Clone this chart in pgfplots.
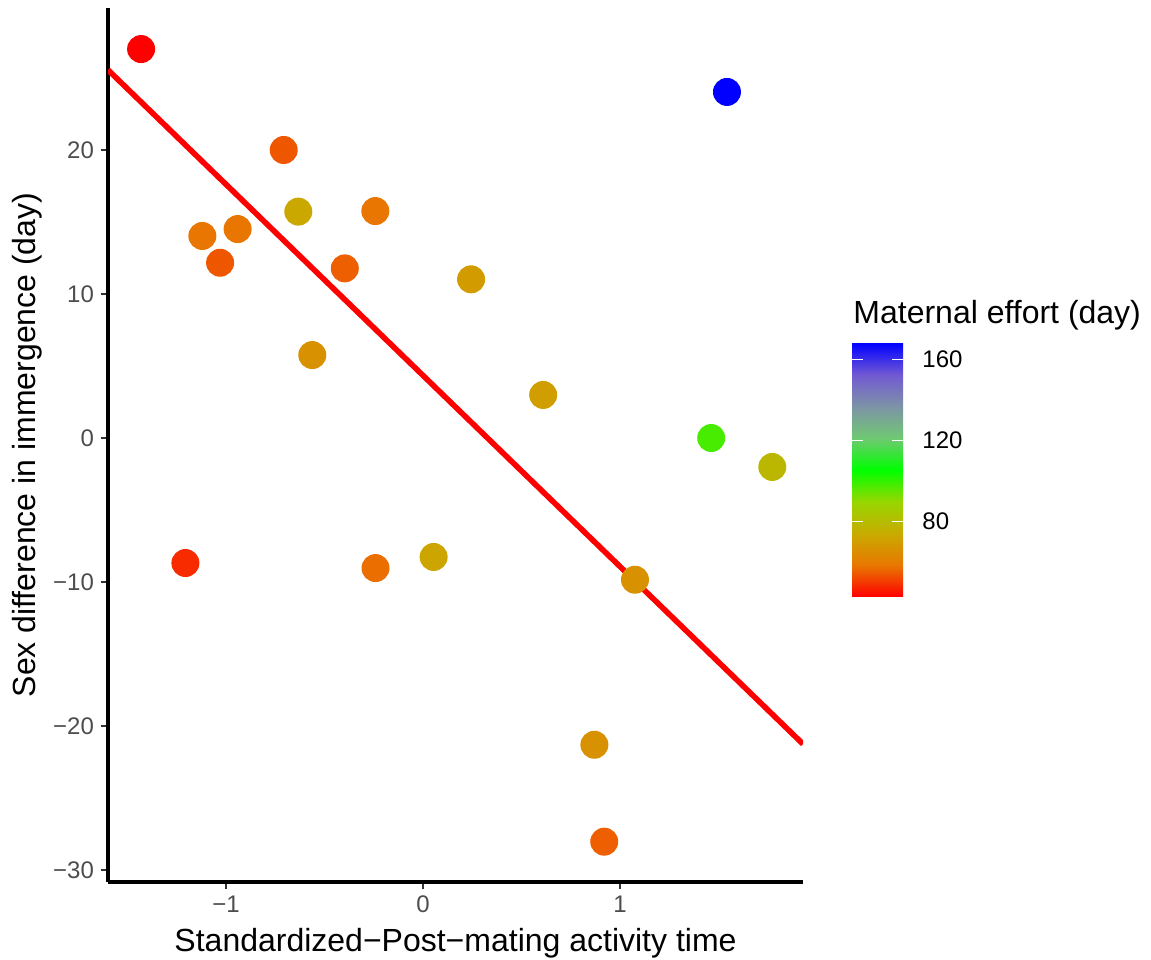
\documentclass[border=0pt]{standalone}
\usepackage{fontspec}
\setmainfont{Liberation Sans}
\usepackage{pgfplots}
\pgfplotsset{compat=1.18}
\definecolor{tickgrey}{HTML}{4D4D4D}
\definecolor{tickline}{HTML}{333333}
\pgfplotsset{colormap={ggrgb}{rgb255=(255,0,0) rgb255=(232,119,0) rgb255=(200,171,0) rgb255=(152,215,0) rgb255=(0,255,0) rgb255=(111,201,114) rgb255=(125,147,166) rgb255=(114,89,211) rgb255=(0,0,255)}}
\begin{document}
\begin{tikzpicture}
\path[use as bounding box] (0,0) rectangle (575.5pt,479.5pt);
\begin{axis}[
  at={(54pt,38.5pt)}, anchor=south west,
  scale only axis, width=347.5pt, height=437pt,
  xmin=-1.599, xmax=1.929, ymin=-30.83, ymax=29.86,
  axis x line=bottom, axis y line=left,
  axis line style={-, line width=1.6pt, black},
  xtick={-1,0,1}, xticklabels={−1,0,1},
  ytick={-30,-20,-10,0,10,20}, yticklabels={−30,−20,−10,0,10,20},
  tick align=outside, major tick length=3.5pt,
  tick style={tickline, line width=1.2pt},
  ticklabel style={font=\fontsize{12}{14}\selectfont, text=tickgrey},
  xlabel={Standardized−Post−mating activity time},
  ylabel={Sex difference in immergence (day)},
  every axis x label/.style={at={(axis description cs:0.5,-0.0795)}, anchor=base, font=\fontsize{16}{19}\selectfont},
  every axis y label/.style={at={(axis description cs:-0.1036,0.5)}, rotate=90, anchor=base, font=\fontsize{16}{19}\selectfont},
  colormap name=ggrgb, point meta min=42.5, point meta max=168,
  colorbar,
  colorbar/width=25.5pt,
  colorbar shift/.style={xshift=24.5pt},
  colorbar style={
    at={(parent axis.south east)}, anchor=south west, yshift=142.5pt,
    scale only axis, height=127pt,
    ytick={80,120,160}, yticklabels={80,120,160},
    axis line style={draw=none},
    yticklabel pos=right, ytick pos=both,
    tick align=inside, major tick length=5.5pt,
    ytick style={white, line width=0.6pt},
    yticklabel style={font=\fontsize{12}{14}\selectfont, text=black, anchor=west, inner sep=0pt, xshift=9.5pt},
    title={Maternal effort (day)},
    title style={at={(0,1)}, anchor=base west, inner sep=0pt, yshift=3.5pt, xshift=0.5pt, font=\fontsize{16}{19}\selectfont},
  },
]
\addplot[scatter, only marks, mark=*, mark size=7pt, scatter src=explicit,
  scatter/use mapped color={draw=mapped color, draw opacity=0, fill=mapped color}] table[meta=m]{
x y m
-1.431 27.01 42.5
1.543 24.03 168
-0.707 20.00 54
-0.633 15.72 73
-0.242 15.76 58
-1.120 14.03 58
-0.941 14.51 58
-1.030 12.17 54
-0.397 11.78 55
0.244 11.02 69
-0.562 5.76 66
0.610 2.99 70
1.463 0.00 98
1.773 -2.01 78
-1.206 -8.68 48
-0.241 -9.03 57
0.054 -8.26 72
1.076 -9.84 66
0.870 -21.30 66
0.920 -28.03 55
};
\addplot[red, line width=2.8pt, no markers] coordinates {(-1.599,25.56) (1.929,-21.25)};
\end{axis}
\end{tikzpicture}
\end{document}
